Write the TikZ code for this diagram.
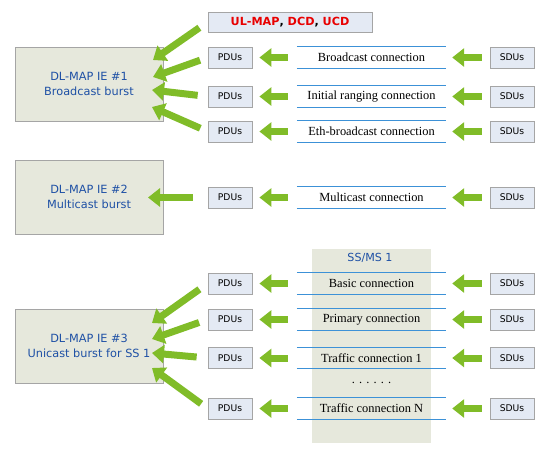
\documentclass[tikz,border=0pt]{standalone}
\usepackage{fontspec}
\setmainfont{DejaVu Sans}
\newfontfamily\connserif{Liberation Serif}
\usetikzlibrary{arrows.meta}
\definecolor{boxedge}{RGB}{165,165,165}
\definecolor{boxfill}{RGB}{230,232,220}
\definecolor{pdufill}{RGB}{228,234,244}
\definecolor{lineblue}{RGB}{60,145,215}
\definecolor{textblue}{RGB}{30,80,165}
\definecolor{ulred}{RGB}{232,0,0}
\definecolor{agreen}{RGB}{128,188,40}
\begin{document}
\begin{tikzpicture}[x=1pt,y=-1pt,
  bigbox/.style={draw=boxedge, fill=boxfill, line width=0.8pt, minimum width=148pt,
    minimum height=74pt, text=textblue, align=center, inner sep=0pt,
    font=\fontsize{11.3}{15}\selectfont},
  smallbox/.style={draw=boxedge, fill=pdufill, line width=0.8pt, minimum width=44pt,
    minimum height=21pt, inner sep=0pt, font=\fontsize{9.2}{10}\selectfont},
  conn/.style={minimum width=149pt, minimum height=21pt, inner sep=0pt,
    font=\connserif\fontsize{12.4}{14}\selectfont},
  connline/.style={draw=lineblue, line width=1pt},
  garrow/.style={draw=agreen, line width=7pt, -{Triangle[width=18pt,length=12pt]}}
]
\useasboundingbox (0,0) rectangle (550,459);

% SS/MS background
\fill[boxfill] (312,249) rectangle (431,443);
\node[text=textblue, font=\fontsize{11.1}{13}\selectfont] (ssms) at (370,258) {SS/MS 1};

% big boxes
\node[bigbox] (dl1) at (89,84) {DL-MAP IE \#1\\Broadcast burst};
\node[bigbox] (dl2) at (89,197) {DL-MAP IE \#2\\Multicast burst};
\node[bigbox] (dl3) at (89,346) {DL-MAP IE \#3\\Unicast burst for SS 1};

% UL-MAP box
\node[smallbox, minimum width=164pt, minimum height=20pt,
  font=\bfseries\fontsize{11.2}{13}\selectfont] (ul) at (290,22)
  {\textcolor{ulred}{UL-MAP}, \textcolor{ulred}{DCD}, \textcolor{ulred}{UCD}};

% rows
\foreach \i/\y/\t in {1/57.5/Broadcast connection,
                      2/96.5/Initial ranging connection,
                      3/131.5/Eth-broadcast connection,
                      4/197.5/Multicast connection,
                      5/283.5/Basic connection,
                      6/319.5/Primary connection,
                      7/358/Traffic connection 1,
                      8/408.5/Traffic connection N}{
  \node[smallbox] (p\i) at (230,\y) {PDUs};
  \node[smallbox] (s\i) at (512,\y) {SDUs};
  \node[conn] (c\i) at (371.5,\y) {\t};
  \draw[connline] (c\i.north west) -- (c\i.north east);
  \draw[connline] (c\i.south west) -- (c\i.south east);
  \draw[garrow, shorten <=8pt, shorten >=6pt] (s\i.west) -- (c\i.east);
  \draw[garrow, shorten <=9pt, shorten >=7pt] (c\i.west) -- (p\i.east);
}

\node[font=\connserif\fontsize{12.4}{14}\selectfont] (dots) at (371.5,383) {. . . . . .};

% tips on big boxes
\coordinate (t1) at (153,60);
\coordinate (t2) at (153,77);
\coordinate (t3) at (152,90);
\coordinate (t4) at (152,107);
\coordinate (t5) at (148,197.5);
\coordinate (t6) at (152,323);
\coordinate (t7) at (152,339);
\coordinate (t8) at (152,353);
\coordinate (t9) at (152,368);

\draw[garrow, shorten <=10pt] (ul.west) -- (t1);
\draw[garrow, shorten <=8pt] (p1.west) -- (t2);
\draw[garrow, shorten <=10pt] (p2.west) -- (t3);
\draw[garrow, shorten <=8pt] (p3.west) -- (t4);
\draw[garrow, shorten <=15pt] (p4.west) -- (t5);
\draw[garrow, shorten <=10pt] (p5.west) -- (t6);
\draw[garrow, shorten <=9pt] (p6.west) -- (t7);
\draw[garrow, shorten <=11pt] (p7.west) -- (t8);
\draw[garrow, shorten <=8pt] (p8.west) -- (t9);
\end{tikzpicture}
\end{document}
